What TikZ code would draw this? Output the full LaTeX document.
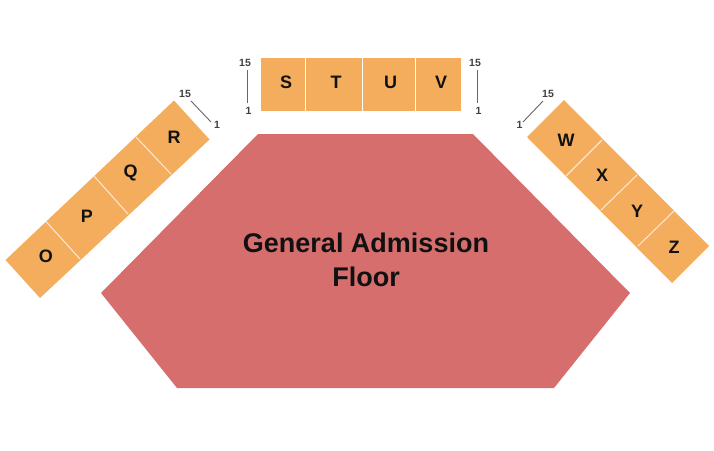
\documentclass[tikz,border=0pt]{standalone}
\usepackage{fontspec}
\setmainfont{Liberation Sans}
\definecolor{sect}{HTML}{F4AD5C}
\definecolor{floorc}{HTML}{D66E6E}
\definecolor{ink}{HTML}{111111}
\definecolor{tick}{HTML}{666666}
\tikzset{
  sectshape/.style={fill=sect,draw=none},
  divider/.style={draw=white!70!sect,line width=1.1pt},
  seclabel/.style={font=\fontsize{18}{18}\selectfont\bfseries,text=ink,inner sep=0pt},
  rownum/.style={font=\fontsize{10.5}{10.5}\selectfont\bfseries,text=black!75,inner sep=0pt},
  rowline/.style={draw=tick,line width=0.9pt},
  floorlabel/.style={font=\fontsize{27}{34}\selectfont\bfseries,text=ink,align=center,inner sep=0pt}
}
\begin{document}
\begin{tikzpicture}[x=1pt,y=-1pt]
\useasboundingbox (0,0) rectangle (714,450);
% floor
\fill[floorc] (258,134) -- (473,134) -- (630,293) -- (554,388) -- (177,388) -- (101,293) -- cycle;
\node[floorlabel] (gaf) at (366,260) {General Admission\\Floor};
% left block
\fill[sectshape] (5.5,260) -- (174,100.5) -- (209.5,139.5) -- (40,298) -- cycle;
\draw[divider] (46,221.5) -- (80,259);
\draw[divider] (94,176) -- (128,214);
\draw[divider] (136,137) -- (171,174);
\node[seclabel] (O) at (46,256) {O};
\node[seclabel] (P) at (87,216) {P};
\node[seclabel] (Q) at (130.5,173) {Q};
\node[seclabel] (R) at (174,137) {R};
% top block
\fill[sectshape] (261,58) rectangle (304.5,111);
\fill[sectshape] (306,58) rectangle (361.5,111);
\fill[sectshape] (363,58) rectangle (414.5,111);
\fill[sectshape] (416,58) rectangle (461,111);
\node[seclabel] (S) at (286,82.5) {S};
\node[seclabel] (T) at (336,82.5) {T};
\node[seclabel] (U) at (390.5,82.5) {U};
\node[seclabel] (V) at (441,82.5) {V};
% right block
\fill[sectshape] (564,100) -- (709,246) -- (672,283) -- (527,137) -- cycle;
\draw[divider] (602,140) -- (566,176);
\draw[divider] (637,175) -- (601,210);
\draw[divider] (674,211) -- (638,246);
\node[seclabel] (W) at (566,140) {W};
\node[seclabel] (X) at (602,175.5) {X};
\node[seclabel] (Y) at (637,211) {Y};
\node[seclabel] (Z) at (674,247) {Z};
% row numbers
\node[rownum] (a15) at (185,94) {15};
\node[rownum] (a1) at (217,125) {1};
\draw[rowline] (191,101) -- (211,122);
\node[rownum] (b15) at (245,63) {15};
\node[rownum] (b1) at (248.5,110.5) {1};
\draw[rowline] (247,70) -- (247,103);
\node[rownum] (c15) at (475,63) {15};
\node[rownum] (c1) at (478.5,110.5) {1};
\draw[rowline] (477,70) -- (477,103);
\node[rownum] (d15) at (548,94) {15};
\node[rownum] (d1) at (519.5,125) {1};
\draw[rowline] (543,101) -- (523,122);
\end{tikzpicture}
\end{document}
